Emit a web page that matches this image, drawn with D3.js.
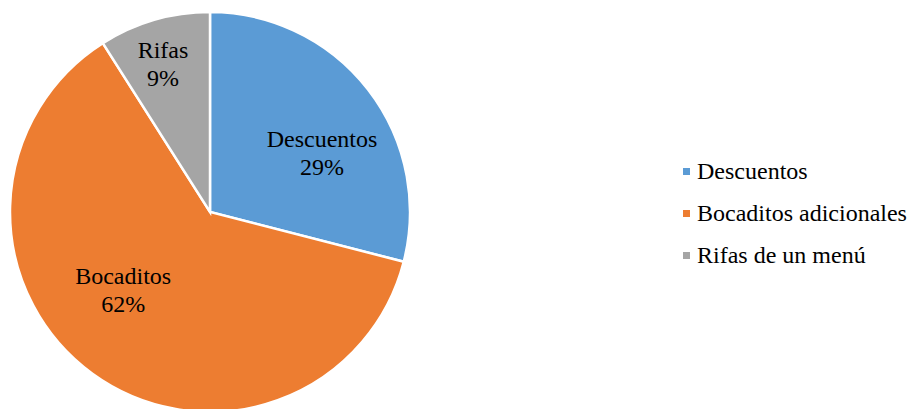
<!DOCTYPE html>
<html>
<head>
<meta charset="utf-8">
<script src="https://cdn.jsdelivr.net/npm/d3@7"></script>
<style>
  body { margin: 0; background: #fff; }
</style>
</head>
<body>
<svg id="chart" width="908" height="409"></svg>
<script>
const categories = ['Descuentos', 'Bocaditos adicionales', 'Rifas de un menú'];
const shortLabels = ['Descuentos', 'Bocaditos', 'Rifas'];
const values = [29, 62, 9];
const colors = ['#5B9BD5', '#ED7D31', '#A5A5A5'];

const FONT = '"Liberation Serif", "Times New Roman", serif';
const cx = 210, cy = 212, radius = 200;

const svg = d3.select('#chart');
const data = categories.map((c, i) => ({ name: c, label: shortLabels[i], value: values[i], color: colors[i] }));

const pie = d3.pie().value(d => d.value).sort(null);
const arc = d3.arc().innerRadius(0).outerRadius(radius);

const g = svg.append('g').attr('transform', `translate(${cx},${cy})`);
const arcs = pie(data);

g.selectAll('path.slice')
  .data(arcs)
  .enter()
  .append('path')
  .attr('class', 'slice')
  .attr('d', arc)
  .attr('fill', d => d.data.color)
  .attr('stroke', '#fff')
  .attr('stroke-width', 2.5);

// label placement: radius fraction and angle nudge (deg) per slice, like Excel's best fit
const labelRadius = [0.633, 0.584, 0.777];
const labelNudge = [10, 12, -1.4];

const labels = g.selectAll('text.slice-label')
  .data(arcs)
  .enter()
  .append('text')
  .attr('class', 'slice-label')
  .attr('text-anchor', 'middle')
  .style('font-family', FONT)
  .style('font-size', '24px')
  .attr('fill', '#000')
  .attr('transform', (d, i) => {
    const a = (d.startAngle + d.endAngle) / 2 + labelNudge[i] * Math.PI / 180;
    const r = radius * labelRadius[i];
    return `translate(${r * Math.sin(a)},${-r * Math.cos(a)})`;
  });

labels.append('tspan').attr('x', 0).attr('y', -6).text(d => d.data.label);
labels.append('tspan').attr('x', 0).attr('y', 22).text(d => d.data.value + '%');

// legend
const legend = svg.append('g').attr('transform', 'translate(683,171)');
const item = legend.selectAll('g.legend-item')
  .data(data)
  .enter()
  .append('g')
  .attr('class', 'legend-item')
  .attr('transform', (d, i) => `translate(0,${i * 42})`);

item.append('rect')
  .attr('x', 0).attr('y', -3)
  .attr('width', 7).attr('height', 7)
  .attr('fill', d => d.color);

item.append('text')
  .attr('x', 14)
  .attr('y', 7.5)
  .style('font-family', FONT)
  .style('font-size', '24px')
  .attr('fill', '#000')
  .text(d => d.name);
</script>
</body>
</html>
